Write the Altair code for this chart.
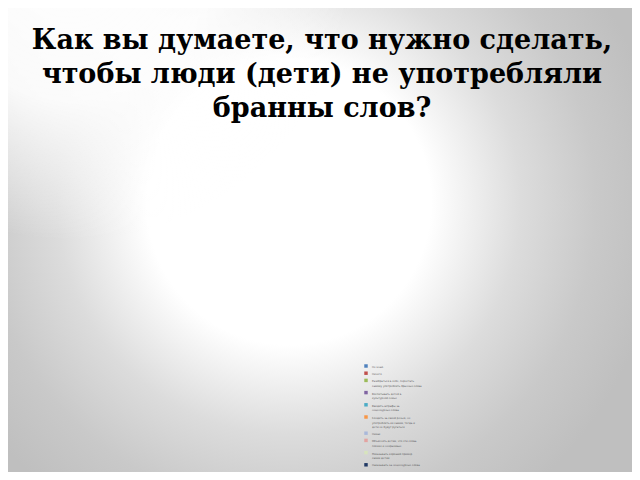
import altair as alt
import pandas as pd

# Title lines
title_lines = [
    "Как вы думаете, что нужно сделать,",
    "чтобы люди (дети) не употребляли",
    "бранны слов?",
]

# Legend categories (answers) and their colours
categories = [
    "Не знаю",
    "Ничего",
    "Разобраться в себе, перестать|самому употреблять бранные слова",
    "Воспитывать детей в|культурной семье",
    "Вводить штрафы за|нецензурные слова",
    "Следить за своей речью, не|употреблять их самим, тогда и|дети не будут ругаться",
    "Никак",
    "Объяснять детям, что эти слова|плохие и некрасивые",
    "Показывать хороший пример|своим детям",
    "Наказывать за нецензурные слова",
]
colors = [
    "#4F81BD", "#C0504D", "#9BBB59", "#8064A2", "#4BACC6",
    "#F79646", "#A9B8DA", "#E3A3A1", "#D7E4BD", "#1F3864",
]

W, H = 624, 464

bg_df = pd.DataFrame({"k": [0]})
cat_df = pd.DataFrame({"answer": categories})

background = alt.Chart(bg_df).mark_rect(
    color={
        "gradient": "radial",
        "x1": 0.45, "y1": 0.44, "r1": 0.0,
        "x2": 0.45, "y2": 0.44, "r2": 0.6,
        "stops": [
            {"offset": 0.0, "color": "#ffffff"},
            {"offset": 0.38, "color": "#ffffff"},
            {"offset": 0.62, "color": "#dcdcdc"},
            {"offset": 0.82, "color": "#c9c9c9"},
            {"offset": 1.0, "color": "#bfbfbf"},
        ],
    },
    strokeWidth=0,
).encode(
    x=alt.value(0), x2=alt.value(W), y=alt.value(0), y2=alt.value(H)
)

# light glow in the upper-left corner of the slide background
glow = alt.Chart(bg_df).mark_rect(
    color={
        "gradient": "radial",
        "x1": 0.1, "y1": 0.05, "r1": 0.0,
        "x2": 0.1, "y2": 0.05, "r2": 0.45,
        "stops": [
            {"offset": 0.0, "color": "rgba(255,255,255,1)"},
            {"offset": 0.5, "color": "rgba(255,255,255,0.9)"},
            {"offset": 1.0, "color": "rgba(255,255,255,0)"},
        ],
    },
    strokeWidth=0,
).encode(
    x=alt.value(0), x2=alt.value(W), y=alt.value(0), y2=alt.value(H)
)

title = alt.Chart(bg_df).mark_text(
    text=title_lines,
    font="DejaVu Serif",
    fontWeight="bold",
    fontSize=27,
    lineHeight=34,
    align="center",
    baseline="alphabetic",
    color="#000000",
).encode(x=alt.value(314), y=alt.value(41))

legend_pts = alt.Chart(cat_df).mark_point(opacity=0, filled=True).encode(
    x=alt.value(-50),
    y=alt.value(-50),
    color=alt.Color(
        "answer:N",
        scale=alt.Scale(domain=categories, range=colors),
        sort=categories,
        legend=alt.Legend(
            title=None,
            orient="none",
            legendX=356,
            legendY=356,
            padding=0,
            symbolType="square",
            symbolSize=12,
            symbolOpacity=1,
            symbolStrokeWidth=0,
            labelFont="DejaVu Sans",
            labelFontSize=2.6,
            labelColor="#555555",
            labelOffset=4,
            labelBaseline="top",
            labelLimit=200,
            rowPadding=2.2,
            labelExpr="split(datum.label, '|')",
        ),
    ),
)

chart = alt.layer(background, glow, title, legend_pts).properties(
    width=W, height=H, padding=0,
    autosize=alt.AutoSizeParams(type="none"),
).configure_view(stroke=None)

chart.save("out.html", embed_options={"renderer": "svg", "actions": False})
